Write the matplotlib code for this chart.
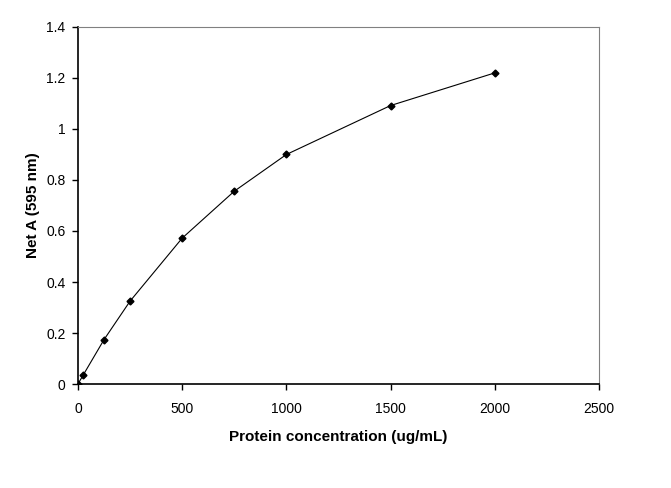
import numpy as np
import matplotlib
matplotlib.use('Agg')
import matplotlib.pyplot as plt

plt.rcParams['font.family'] = ['Liberation Sans', 'DejaVu Sans']

# protein standard curve
conc = [0, 25, 125, 250, 500, 750, 1000, 1500, 2000]
absorb = [0, 0.035, 0.174, 0.325, 0.572, 0.756, 0.900, 1.092, 1.220]

fig = plt.figure(figsize=(6.71, 4.88), dpi=100)
ax = fig.add_axes([0.1162, 0.2131, 0.7765, 0.7316])

ax.plot(conc, absorb, 'k-', linewidth=0.8, marker='D', markersize=3.5)

ax.set_xlim(0, 2500)
ax.set_ylim(0, 1.4)
ax.set_xticks(np.arange(0, 2501, 500))
ax.set_yticks(np.arange(0, 1.41, 0.2))
ax.set_yticklabels(['0', '0.2', '0.4', '0.6', '0.8', '1', '1.2', '1.4'])

for s in ['top', 'right']:
    ax.spines[s].set_color('#808080')
for s in ['left', 'bottom']:
    ax.spines[s].set_color('black')
    ax.spines[s].set_linewidth(1.2)
ax.tick_params(direction='out', length=4, width=1, labelsize=10)
ax.tick_params(axis='x', pad=9)
ax.tick_params(axis='y', pad=5)

ax.set_xlabel('Protein concentration (ug/mL)', fontsize=11, fontweight='bold', labelpad=10)
ax.set_ylabel('Net A (595 nm)', fontsize=11, fontweight='bold')
ax.yaxis.set_label_coords(-0.073, 0.5)

fig.savefig('out.png', dpi=100)
